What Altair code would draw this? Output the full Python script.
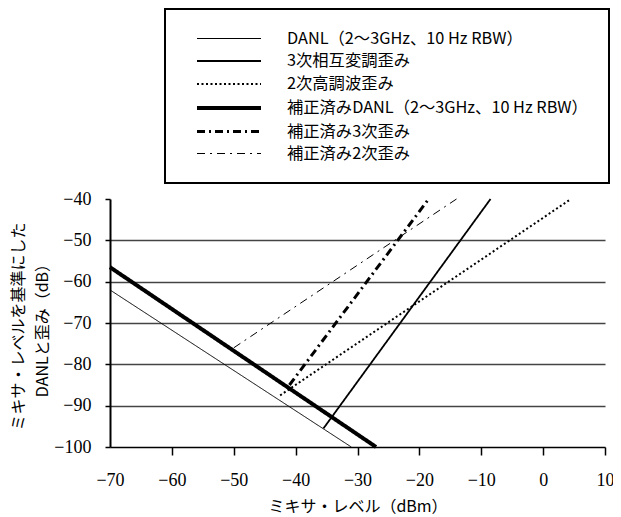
import altair as alt
import pandas as pd

series = [
    "DANL（2〜3GHz、10 Hz RBW）",
    "3次相互変調歪み",
    "2次高調波歪み",
    "補正済みDANL（2〜3GHz、10 Hz RBW）",
    "補正済み3次歪み",
    "補正済み2次歪み",
]
x_start = [-70, -35.5, -42.5, -70, -41, -50]
y_start = [-62, -95.5, -87.5, -56.5, -85, -76]
x_end = [-31, -8.5, 4.5, -27, -18.5, -14]
y_end = [-100, -40, -40, -100, -40, -40]

dashes = [[1, 0], [1, 0], [2, 2.5], [1, 0], [8, 4, 2, 4], [8, 5, 2, 5]]
widths = [1, 1.8, 2, 4, 3, 1]

x_ticks = [-70, -60, -50, -40, -30, -20, -10, 0, 10]
y_ticks = [-100, -90, -80, -70, -60, -50, -40]

rows = []
for s, xs, ys, xe, ye in zip(series, x_start, y_start, x_end, y_end):
    rows.append({"series": s, "x": xs, "y": ys})
    rows.append({"series": s, "x": xe, "y": ye})
df = pd.DataFrame(rows)

NUM_FONT = "Liberation Sans Narrow"
JP_FONT = "Noto Sans CJK JP"

leg = alt.Legend(
    title=None,
    orient="none",
    legendX=55,
    legendY=-190,
    symbolType="M-4,0H4",
    symbolSize=256,
    symbolStrokeColor="black",
    symbolOffset=33,
    labelOffset=48,
    labelFont=JP_FONT,
    labelFontSize=16.3,
    labelColor="black",
    labelLimit=0,
    rowPadding=5,
    padding=21,
    strokeColor="black",
    fillColor="white",
)

chart = alt.Chart(df).mark_line(color="black", strokeCap="butt").encode(
    x=alt.X(
        "x:Q",
        scale=alt.Scale(domain=[-70, 10], nice=False),
        axis=alt.Axis(
            values=x_ticks,
            format="d",
            grid=False,
            domainColor="black",
            domainWidth=1.5,
            tickColor="black",
            tickWidth=1.5,
            tickSize=8,
            tickOpacity={"condition": {"test": "datum.value == -70", "value": 0}, "value": 1},
            labelFont=NUM_FONT,
            labelFontSize=18,
            labelColor="black",
            labelPadding=16,
            labelFlush=False,
            title="ミキサ・レベル（dBm）",
            titleFont=JP_FONT,
            titleFontSize=16,
            titleFontWeight="normal",
            titleColor="black",
            titlePadding=9,
        ),
    ),
    y=alt.Y(
        "y:Q",
        scale=alt.Scale(domain=[-100, -40], nice=False),
        axis=alt.Axis(
            values=y_ticks,
            format="d",
            grid=True,
            gridColor="#444",
            gridWidth=1.3,
            gridOpacity={"condition": {"test": "datum.value == -40 || datum.value == -100", "value": 0}, "value": 1},
            domainColor="black",
            domainWidth=2,
            tickColor="black",
            tickWidth=1.5,
            tickSize=5,
            labelFont=NUM_FONT,
            labelFontSize=18,
            labelColor="black",
            labelPadding=14,
            title=["ミキサ・レベルを基準にした", "DANLと歪み（dB）"],
            titleFont=JP_FONT,
            titleFontSize=16,
            titleLineHeight=24,
            titleFontWeight="normal",
            titleColor="black",
            titleX=-84,
            titleY=127,
        ),
    ),
    detail="series:N",
    strokeDash=alt.StrokeDash(
        "series:N", scale=alt.Scale(domain=series, range=dashes), legend=leg
    ),
    strokeWidth=alt.StrokeWidth(
        "series:N", scale=alt.Scale(type="ordinal", domain=series, range=widths), legend=leg
    ),
).properties(
    width=495,
    height=248,
    autosize=alt.AutoSizeParams(type="none"),
    padding={"left": 102, "top": 191, "right": 8, "bottom": 70},
).configure_view(stroke=None).configure_legend(strokeWidth=2)

chart.save("out.html", embed_options={"renderer": "svg", "actions": False})
